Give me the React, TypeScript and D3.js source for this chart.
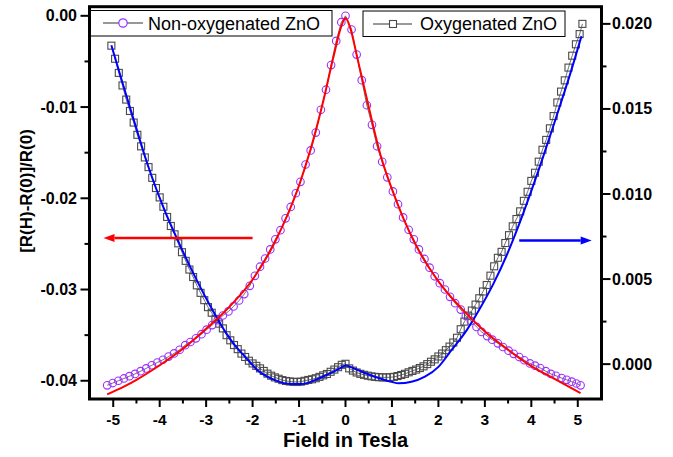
import React from 'react';
import * as d3 from 'd3';

// Non-oxygenated ZnO, left axis
const fieldNonOx = [
  -5.13, -5.01, -4.89, -4.77, -4.65, -4.53, -4.41, -4.29, -4.17, -4.05, -3.93, -3.81, -3.69, -3.57, -3.45, -3.34,
  -3.22, -3.10, -2.99, -2.87, -2.75, -2.64, -2.52, -2.41, -2.29, -2.18, -2.06, -1.95, -1.84, -1.73, -1.62, -1.51,
  -1.40, -1.29, -1.18, -1.07, -0.97, -0.86, -0.75, -0.64, -0.53, -0.42, -0.31, -0.20, -0.09, 0.00,
  0.13, 0.24, 0.35, 0.46, 0.57, 0.68, 0.79, 0.90, 1.02, 1.13, 1.24, 1.36, 1.47, 1.58, 1.70, 1.81,
  1.92, 2.03, 2.14, 2.25, 2.36, 2.48, 2.59, 2.70, 2.82, 2.93, 3.05, 3.16, 3.28, 3.39, 3.51, 3.62,
  3.74, 3.85, 3.97, 4.08, 4.19, 4.31, 4.42, 4.53, 4.65, 4.76, 4.87, 4.97, 5.06,
];
const mrNonOx = [
  -0.04050, -0.04025, -0.04000, -0.03975, -0.03950, -0.03925, -0.03895, -0.03865, -0.03830, -0.03800, -0.03770,
  -0.03735, -0.03700, -0.03660, -0.03610, -0.03575, -0.03535, -0.03490, -0.03440, -0.03390, -0.03335, -0.03285,
  -0.03240, -0.03185, -0.03120, -0.03050, -0.02960, -0.02850, -0.02750, -0.02660, -0.02560, -0.02450, -0.02350,
  -0.02220, -0.02095, -0.01945, -0.01820, -0.01630, -0.01475, -0.01280, -0.01030, -0.00810, -0.00540, -0.00275,
  -0.00070, 0.00000,
  -0.00150, -0.00425, -0.00705, -0.00980, -0.01195, -0.01430, -0.01600, -0.01770, -0.01925, -0.02065, -0.02210,
  -0.02345, -0.02450, -0.02560, -0.02665, -0.02760, -0.02855, -0.02930, -0.03000, -0.03080, -0.03150, -0.03220,
  -0.03290, -0.03345, -0.03410, -0.03465, -0.03510, -0.03550, -0.03590, -0.03630, -0.03670, -0.03705, -0.03740,
  -0.03775, -0.03810, -0.03835, -0.03860, -0.03895, -0.03925, -0.03945, -0.03970, -0.03990, -0.04010, -0.04030,
  -0.04050,
];

// Oxygenated ZnO, right axis
const fieldOx = [
  -5.04, -4.96, -4.88, -4.80, -4.72, -4.64, -4.56, -4.48, -4.40, -4.32, -4.24, -4.16, -4.08, -4.00, -3.92, -3.84,
  -3.76, -3.68, -3.60, -3.52, -3.44, -3.36, -3.28, -3.20, -3.12, -3.04, -2.96, -2.88, -2.80, -2.72, -2.64, -2.56,
  -2.48, -2.40, -2.32, -2.24, -2.16, -2.08, -2.00, -1.92, -1.84, -1.76, -1.68, -1.60, -1.52, -1.44, -1.36, -1.28,
  -1.20, -1.12, -1.04, -0.96, -0.88, -0.80, -0.72, -0.64, -0.56, -0.48, -0.40, -0.32, -0.24, -0.16, -0.08, 0.00,
  0.08, 0.16, 0.24, 0.32, 0.40, 0.48, 0.56, 0.64, 0.72, 0.80, 0.88, 0.96, 1.04, 1.12, 1.20, 1.28,
  1.36, 1.44, 1.52, 1.60, 1.68, 1.76, 1.84, 1.92, 2.00, 2.08, 2.16, 2.24, 2.32, 2.40, 2.48, 2.56,
  2.64, 2.72, 2.80, 2.88, 2.96, 3.04, 3.12, 3.20, 3.28, 3.36, 3.44, 3.52, 3.60, 3.68, 3.76, 3.84,
  3.92, 4.00, 4.08, 4.16, 4.24, 4.32, 4.40, 4.48, 4.56, 4.64, 4.72, 4.80, 4.88, 4.96, 5.04, 5.10,
];
const mrOx = [
  0.01872, 0.01795, 0.01712, 0.01638, 0.01555, 0.01488, 0.01420, 0.01348, 0.01280, 0.01215, 0.01158, 0.01095,
  0.01035, 0.00980, 0.00925, 0.00865, 0.00812, 0.00763, 0.00710, 0.00658, 0.00607, 0.00556, 0.00512, 0.00463,
  0.00419, 0.00376, 0.00335, 0.00302, 0.00266, 0.00238, 0.00210, 0.00170, 0.00140, 0.00112, 0.00088, 0.00062,
  0.00042, 0.00020, 0.00004, -0.00010, -0.00025, -0.00040, -0.00056, -0.00068, -0.00078, -0.00086, -0.00094,
  -0.00099, -0.00102, -0.00104, -0.00105, -0.00103, -0.00098, -0.00093, -0.00089, -0.00083, -0.00075, -0.00066,
  -0.00058, -0.00045, -0.00032, -0.00018, -0.00004, 0.00002,
  -0.00025, -0.00038, -0.00049, -0.00057, -0.00063, -0.00068, -0.00072, -0.00075, -0.00077, -0.00078, -0.00078,
  -0.00077, -0.00075, -0.00070, -0.00064, -0.00057, -0.00048, -0.00040, -0.00032, -0.00023, -0.00013, 0.00000,
  0.00014, 0.00028, 0.00045, 0.00062, 0.00082, 0.00103, 0.00127, 0.00155, 0.00205, 0.00250, 0.00285, 0.00315,
  0.00350, 0.00387, 0.00427, 0.00465, 0.00520, 0.00575, 0.00625, 0.00660, 0.00712, 0.00758, 0.00810, 0.00853,
  0.00898, 0.00960, 0.01013, 0.01077, 0.01125, 0.01190, 0.01260, 0.01318, 0.01386, 0.01458, 0.01538, 0.01602,
  0.01668, 0.01743, 0.01813, 0.01880, 0.01940, 0.02000,
];

// fitted curves
const fitNonOxField = [-5.13, -4.75, -4.5, -4.0, -3.5, -3.0, -2.5, -2.0, -1.5, -1.0, -0.75, -0.5, -0.25, -0.1, 0,
  0.1, 0.25, 0.5, 0.75, 1.0, 1.5, 2.0, 2.5, 3.0, 3.5, 4.0, 4.5, 5.06];
const fitNonOx = [-0.0415, -0.0406, -0.0399, -0.0383, -0.0365, -0.0343, -0.0319, -0.0289, -0.0246, -0.0186, -0.0146,
  -0.0098, -0.0043, -0.0013, -0.00025, -0.0013, -0.0045, -0.0100, -0.0152, -0.0190, -0.0250, -0.0291, -0.0321,
  -0.0346, -0.0366, -0.0384, -0.0398, -0.04135];
const fitOxField = [-5.04, -4.78, -4.53, -4.24, -3.92, -3.58, -3.20, -2.84, -2.55, -2.38, -2.16, -1.88, -1.52, -1.16,
  -0.94, -0.66, -0.37, -0.12, 0, 0.13, 0.35, 0.63, 0.99, 1.14, 1.42, 1.71, 2.00, 2.28, 2.61, 2.89, 3.18, 3.47, 3.72,
  3.97, 4.25, 4.54, 4.83, 5.08];
const fitOx = [0.01874, 0.01635, 0.01411, 0.01157, 0.00922, 0.00710, 0.00492, 0.00307, 0.00175, 0.00110, 0.00043,
  -0.00039, -0.00094, -0.00117, -0.00117, -0.00094, -0.00059, -0.00025, -0.00008, -0.00019, -0.00045, -0.00074,
  -0.00104, -0.00113, -0.00104, -0.00074, -0.00016, 0.00082, 0.00200, 0.00325, 0.00470, 0.00640, 0.00810, 0.00995,
  0.01215, 0.01455, 0.01700, 0.01928];

const xTicks = [-5, -4, -3, -2, -1, 0, 1, 2, 3, 4, 5];
const xMinorTicks = [-4.5, -3.5, -2.5, -1.5, -0.5, 0.5, 1.5, 2.5, 3.5, 4.5];
const leftTicks = [0, -0.01, -0.02, -0.03, -0.04];
const leftTickLabels = ['0.00', '-0.01', '-0.02', '-0.03', '-0.04'];
const leftMinorTicks = [-0.005, -0.015, -0.025, -0.035];
const rightTicks = [0, 0.005, 0.01, 0.015, 0.02];
const rightTickLabels = ['0.000', '0.005', '0.010', '0.015', '0.020'];
const rightMinorTicks = [0.0025, 0.0075, 0.0125, 0.0175];
const legendLabels = ['Non-oxygenated ZnO', 'Oxygenated ZnO'];

// arrows: [from field, to field, value]
const leftArrow = [-2.0, -5.21, -0.02436];
const rightArrow = [3.74, 5.3, 0.00727];

const FONT = "Arial, 'Liberation Sans', sans-serif";
const PURPLE = '#9b30ff';
const SQ = '#4a4a4a';

export default function App() {
  const width = 673;
  const height = 457;
  const left = 89.5, right = 601.5, top = 6.7, bottom = 399;

  const x = d3.scaleLinear().domain([-5.5, 5.5]).range([90, 601]);
  const yL = d3.scaleLinear().domain([-0.042, 0.001]).range([bottom, top]);
  const yR = d3.scaleLinear().domain([-0.00205, 0.02101]).range([bottom, top]);

  const lineL = (fx: number[], v: number[], curve: any) =>
    d3.line<number>().x((_, i) => x(fx[i])).y(d => yL(d)).curve(curve)(v) || '';
  const lineR = (fx: number[], v: number[], curve: any) =>
    d3.line<number>().x((_, i) => x(fx[i])).y(d => yR(d)).curve(curve)(v) || '';

  const arrow = (a: number[], y: number, color: string) => {
    const x0 = x(a[0]);
    const x1 = x(a[1]);
    const dir = x1 > x0 ? 1 : -1;
    const hl = 11, hw = 4;
    return (
      <g>
        <line x1={x0} y1={y} x2={x1 - dir * hl} y2={y} stroke={color} strokeWidth={2.5} />
        <polygon points={`${x1},${y} ${x1 - dir * hl},${y - hw} ${x1 - dir * hl},${y + hw}`} fill={color} />
      </g>
    );
  };

  return (
    <svg width={width} height={height} style={{ position: 'absolute', left: 0, top: 0, background: '#fff' }}
      fontFamily={FONT}>
      <rect width={width} height={height} fill="#fff" />

      {/* data: oxygenated */}
      <path d={lineR(fieldOx, mrOx, d3.curveLinear)} fill="none" stroke="#333" strokeWidth={0.7} />
      {mrOx.map((v, i) => (
        <rect key={'s' + i} x={x(fieldOx[i]) - 3.5} y={yR(v) - 3.5} width={7} height={7}
          fill="none" stroke={SQ} strokeWidth={1.1} />
      ))}

      {/* data: non-oxygenated */}
      <path d={lineL(fieldNonOx, mrNonOx, d3.curveLinear)} fill="none" stroke="#333" strokeWidth={0.7} />
      {mrNonOx.map((v, i) => (
        <circle key={'c' + i} cx={x(fieldNonOx[i])} cy={yL(v)} r={3.8}
          fill="none" stroke={PURPLE} strokeWidth={1.1} />
      ))}

      {/* fits */}
      <path d={lineR(fitOxField, fitOx, d3.curveMonotoneX)} fill="none" stroke="#0000ff" strokeWidth={2} />
      <path d={lineL(fitNonOxField, fitNonOx, d3.curveMonotoneX)} fill="none" stroke="#ff0000" strokeWidth={2} />

      {/* arrows */}
      {arrow(leftArrow, yL(leftArrow[2]), '#ff0000')}
      {arrow(rightArrow, yR(rightArrow[2]), '#0000ff')}

      {/* frame */}
      <rect x={left} y={top} width={right - left} height={bottom - top} fill="none" stroke="#000" strokeWidth={3} />

      {/* bottom axis */}
      {xTicks.map((t, i) => (
        <g key={'xt' + i}>
          <line x1={x(t)} x2={x(t)} y1={bottom} y2={bottom + 8} stroke="#000" strokeWidth={2} />
          <text x={x(t)} y={425} textAnchor="middle" fontSize={15.5} fontWeight="bold">{t}</text>
        </g>
      ))}
      {xMinorTicks.map((t, i) => (
        <line key={'xm' + i} x1={x(t)} x2={x(t)} y1={bottom} y2={bottom + 4.5} stroke="#000" strokeWidth={2} />
      ))}

      {/* left axis */}
      {leftTicks.map((t, i) => (
        <g key={'lt' + i}>
          <line x1={left - 9} x2={left} y1={yL(t)} y2={yL(t)} stroke="#000" strokeWidth={2} />
          <text x={77} y={yL(t) + 5.5} textAnchor="end" fontSize={16} fontWeight="bold">{leftTickLabels[i]}</text>
        </g>
      ))}
      {leftMinorTicks.map((t, i) => (
        <line key={'lm' + i} x1={left - 5} x2={left} y1={yL(t)} y2={yL(t)} stroke="#000" strokeWidth={2} />
      ))}

      {/* right axis */}
      {rightTicks.map((t, i) => (
        <g key={'rt' + i}>
          <line x1={right} x2={right + 9} y1={yR(t)} y2={yR(t)} stroke="#000" strokeWidth={2} />
          <text x={612} y={yR(t) + 5.5} textAnchor="start" fontSize={16} fontWeight="bold">{rightTickLabels[i]}</text>
        </g>
      ))}
      {rightMinorTicks.map((t, i) => (
        <line key={'rm' + i} x1={right} x2={right + 5} y1={yR(t)} y2={yR(t)} stroke="#000" strokeWidth={2} />
      ))}

      {/* axis titles */}
      <text x={345.5} y={447} textAnchor="middle" fontSize={20} fontWeight="bold">Field in Tesla</text>
      <text transform="translate(32,191) rotate(-90)" textAnchor="middle" fontSize={17} fontWeight="bold">
        [R(H)-R(0)]/R(0)
      </text>

      {/* legends */}
      <rect x={90.5} y={10.5} width={241.5} height={25.5} fill="#fff" stroke="#000" strokeWidth={1} />
      <line x1={103} x2={143} y1={23} y2={23} stroke="#333" strokeWidth={1} />
      <circle cx={123} cy={23} r={4.2} fill="#fff" stroke={PURPLE} strokeWidth={1.2} />
      <text x={148} y={29.5} fontSize={18}>{legendLabels[0]}</text>

      <rect x={363} y={11} width={202} height={25.5} fill="#fff" stroke="#000" strokeWidth={1} />
      <line x1={373} x2={412} y1={24} y2={24} stroke="#333" strokeWidth={1} />
      <rect x={389.5} y={20.5} width={7} height={7} fill="#fff" stroke={SQ} strokeWidth={1.1} />
      <text x={420} y={30} fontSize={18}>{legendLabels[1]}</text>
    </svg>
  );
}
